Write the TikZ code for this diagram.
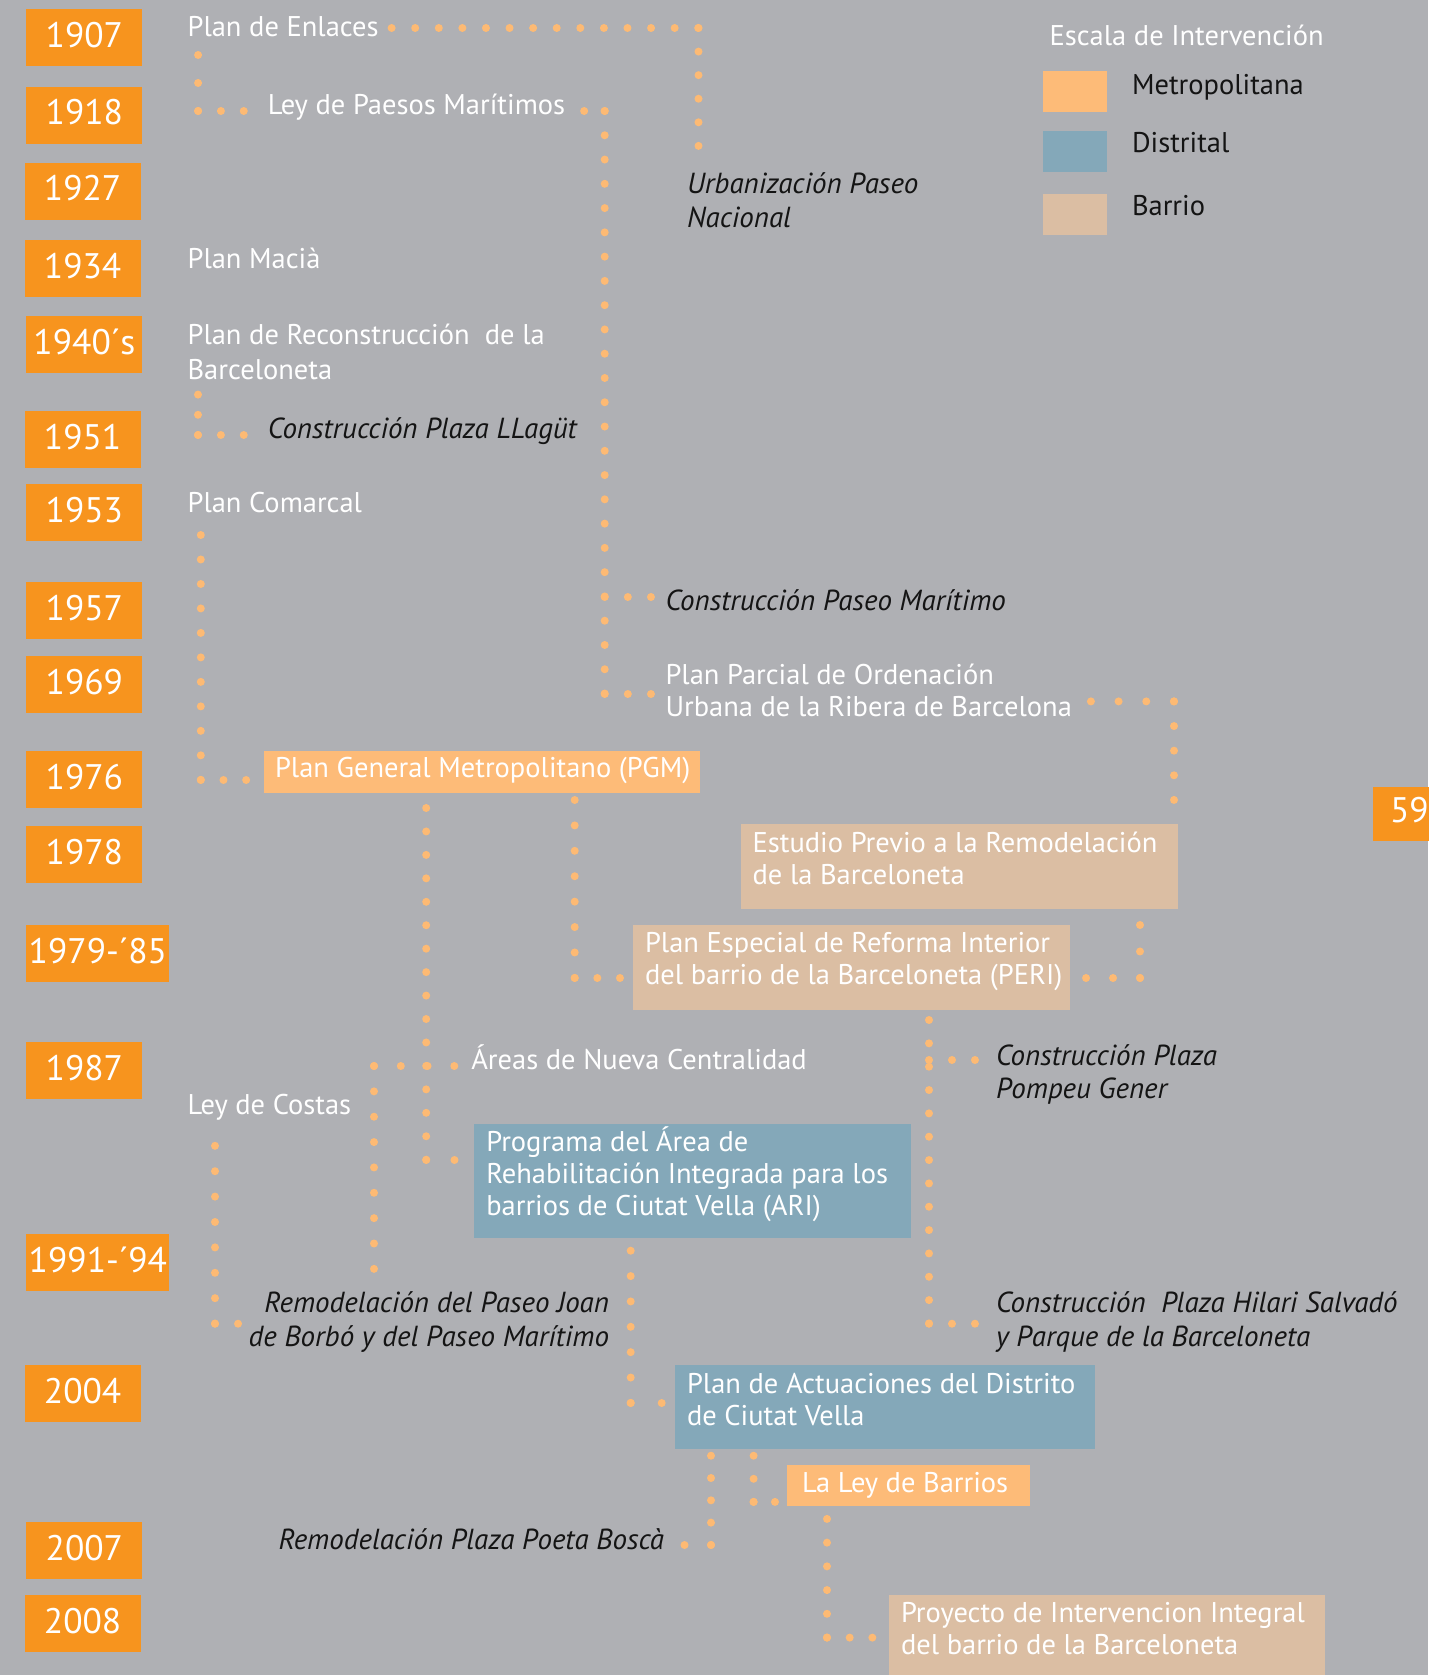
\documentclass[tikz,border=0pt]{standalone}
\usepackage{fontspec}
\setmainfont{PT Sans}
\usetikzlibrary{calc}
\definecolor{bgc}{HTML}{AFB0B4}
\definecolor{yearc}{HTML}{F7941E}
\definecolor{metroc}{HTML}{FDBB78}
\definecolor{distc}{HTML}{84A8B9}
\definecolor{barrc}{HTML}{DBBEA3}
\definecolor{dotc}{HTML}{FDBA74}
\definecolor{txtblack}{HTML}{141414}
\newcommand\lblf{\fontsize{28.5}{35}\selectfont}
\newcommand\lblfb{\fontsize{28.5}{32}\selectfont}
\newcommand\lblfc{\fontsize{29}{34}\selectfont}
\newcommand\dotseg[2]{%
  \path let \p1=(#1), \p2=(#2),
    \n1={max(1,veclen(\x2-\x1,\y2-\y1)/max(1,round(veclen(\x2-\x1,\y2-\y1)/24))-0.02)}
    in \pgfextra{\xdef\dotper{\n1}};
  \draw[dotl,dash pattern=on 0pt off \dotper] (#1) -- (#2);}
\newcommand\dotvh[2]{\dotseg{#1}{#1 |- #2}\dotseg{#1 |- #2}{#2}}
\newcommand\dothv[2]{\dotseg{#1}{#1 -| #2}\dotseg{#1 -| #2}{#2}}
\begin{document}
\begin{tikzpicture}[x=1pt,y=-1pt,
  every node/.style={inner sep=0pt,outer sep=0pt},
  yr/.style={fill=yearc,text=white,font=\fontsize{35.5}{40}\selectfont,anchor=north west,minimum width=116pt,minimum height=57pt,text depth=6pt},
  metrobox/.style={fill=metroc,anchor=north west},
  distbox/.style={fill=distc,anchor=north west},
  barrbox/.style={fill=barrc,anchor=north west},
  wt/.style={text=white,font=\lblf,anchor=base west,align=left},
  wtb/.style={text=white,font=\lblfb,anchor=base west,align=left},
  bt/.style={text=txtblack,font=\lblfc\itshape,anchor=base west,align=left},
  lt/.style={text=txtblack,font=\lblf,anchor=base west},
  dotl/.style={draw=dotc,line width=8pt,line cap=round,dash pattern=on 0pt off 24pt}]
\path[use as bounding box,fill=bgc] (0,0) rectangle (1428,1675);

% years
\node[yr] (y1907) at (26.4,8.9) {1907};
\node[yr] (y1918) at (26.4,86.8) {1918};
\node[yr] (y1927) at (24.6,162.5) {1927};
\node[yr] (y1934) at (24.6,240) {1934};
\node[yr] (y1940) at (26.4,316) {1940´s};
\node[yr] (y1951) at (24.6,411) {1951};
\node[yr] (y1953) at (26.4,484) {1953};
\node[yr] (y1957) at (26.4,582) {1957};
\node[yr] (y1969) at (26.4,656) {1969};
\node[yr] (y1976) at (26.4,751) {1976};
\node[yr] (y1978) at (26.4,826) {1978};
\node[yr,minimum width=143pt] (y1979) at (26.4,925) {1979-´85};
\node[yr] (y1987) at (26.4,1042) {1987};
\node[yr,minimum width=143pt] (y1991) at (26.4,1234) {1991-´94};
\node[yr] (y2004) at (24.6,1365) {2004};
\node[yr] (y2007) at (26.4,1522) {2007};
\node[yr] (y2008) at (24.6,1595) {2008};

% page number
\node[yr,minimum width=70pt,minimum height=54pt] (pg) at (1373,787) {};
\node[text=white,font=\fontsize{35.5}{40}\selectfont,anchor=base west] (pgt) at (1390,822) {59};

% legend
\node[wt] (legt) at (1049.6,45.7) {Escala de Intervención};
\node[metrobox,minimum width=64pt,minimum height=41pt] (lgm) at (1043,71) {};
\node[distbox,minimum width=64pt,minimum height=41pt] (lgd) at (1043,131) {};
\node[barrbox,minimum width=64pt,minimum height=41pt] (lgb) at (1043,194) {};
\node[lt] (lgmt) at (1132,95) {Metropolitana};
\node[lt] (lgdt) at (1132,153) {Distrital};
\node[lt] (lgbt) at (1132,215.7) {Barrio};

% plain labels (multi-line nodes: base = last line)
\node[wt] (enl) at (187.6,37) {Plan de Enlaces};
\node[wt] (ley) at (267.8,115) {Ley de Paesos Marítimos};
\node[wt] (macia) at (187.6,268) {Plan Macià};
\node[wt] (recon) at (187.6,379.6) {Plan de Reconstrucción\ \ de la\\Barceloneta};
\node[bt] (llagut) at (267.8,438.6) {Construcción Plaza LLagüt};
\node[wt] (comarcal) at (187.6,512.5) {Plan Comarcal};
\node[bt] (urb) at (687,227) {Urbanización Paseo\\Nacional};
\node[bt] (cpm) at (665.5,610.7) {Construcción Paseo Marítimo};
\node[wt,font=\fontsize{28.5}{31.5}\selectfont] (parcial) at (665.5,716.1) {Plan Parcial de Ordenación\\Urbana de la Ribera de Barcelona};
\node[wt] (areas) at (471.3,1069) {Áreas de Nueva Centralidad};
\node[wt] (costas) at (187.6,1114) {Ley de Costas};
\node[bt,font=\fontsize{29}{33}\selectfont\itshape] (pompeu) at (996,1098) {Construcción Plaza\\Pompeu Gener};
\node[bt,anchor=base east,align=right] (joan) at (609,1346) {Remodelación del Paseo Joan\\de Borbó y del Paseo Marítimo};
\node[bt] (hilari) at (996,1346) {Construcción\ \ Plaza Hilari Salvadó\\y Parque de la Barceloneta};
\node[bt,anchor=base east] (bosca) at (664,1549) {Remodelación Plaza Poeta Boscà};

% boxes
\node[metrobox,minimum width=436.7pt,minimum height=41.5pt] (pgm) at (263.7,751) {};
\node[wt] (pgmt) at (275,777.5) {Plan General Metropolitano (PGM)};
\node[barrbox,minimum width=437pt,minimum height=84.6pt] (est) at (741,824) {};
\node[wtb] (estt) at (752.6,884.5) {Estudio Previo a la Remodelación\\de la Barceloneta};
\node[barrbox,minimum width=437.3pt,minimum height=84.6pt] (peri) at (632.7,925) {};
\node[wtb] (perit) at (645,984.5) {Plan Especial de Reforma Interior\\del barrio de la Barceloneta (PERI)};
\node[distbox,minimum width=436.5pt,minimum height=113.5pt] (ari) at (474,1124) {};
\node[wtb] (arit) at (486.3,1215) {Programa del Área de\\Rehabilitación Integrada para los\\barrios de Ciutat Vella (ARI)};
\node[distbox,minimum width=420pt,minimum height=84pt] (actuac) at (675,1365) {};
\node[wtb] (actuact) at (687,1425.4) {Plan de Actuaciones del Distrito\\de Ciutat Vella};
\node[metrobox,minimum width=243pt,minimum height=41pt] (barrios) at (787,1464.5) {};
\node[wt] (barriost) at (802,1492.4) {La Ley de Barrios};
\node[barrbox,minimum width=436.6pt,minimum height=100pt] (proy) at (888.8,1595) {};
\node[wtb] (proyt) at (901,1654.5) {Proyecto de Intervencion Integral\\del barrio de la Barceloneta};

% connector end points
\coordinate (s1) at ($(enl.base east)+(13,-9)$);
\coordinate (e1) at ($(urb.base west)+(11.5,-81)$);
\coordinate (s2) at ($(enl.base west)+(10.5,18)$);
\coordinate (e2) at ($(ley.base west)+(-24,-4)$);
\coordinate (s3) at ($(ley.base east)+(19,-4)$);
\coordinate (b3) at ($(parcial.base west)+(-60.8,-22.1)$);
\coordinate (e3) at ($(parcial.base west)+(-14.5,-22.1)$);
\coordinate (f3) at ($(cpm.base west)+(-60.8,-13.7)$);
\coordinate (g3) at ($(cpm.base west)+(-14.5,-13.7)$);
\coordinate (s4) at ($(parcial.base east)+(19,-14.7)$);
\coordinate (e4) at ($(est.north east)+(-4,-24)$);
\coordinate (s5) at ($(comarcal.base west)+(13.2,22.5)$);
\coordinate (e5) at ($(pgm.south west)+(-17.5,-12.5)$);
\coordinate (s6) at ($(pgm.south west)+(311,7.5)$);
\coordinate (e6) at ($(peri.south west)+(-12.7,-31.6)$);
\coordinate (s7) at ($(pgm.south west)+(162.5,15.5)$);
\coordinate (e7) at ($(ari.north west)+(-19.5,36)$);
\coordinate (s7b) at ($(areas.base west)+(-17,-3)$);
\coordinate (e7b) at ($(joan.base east)+(-235,-77)$);
\coordinate (s8) at ($(costas.base west)+(27.4,31.8)$);
\coordinate (e8) at ($(joan.base west)+(-10.6,-22.3)$);
\coordinate (s9) at ($(peri.south west)+(296.3,10.4)$);
\coordinate (e9) at ($(hilari.base west)+(-21,-22.3)$);
\coordinate (s9b) at ($(pompeu.base west)+(-67,-38)$);
\coordinate (e9b) at ($(pompeu.base west)+(-21,-38)$);
\coordinate (s10) at ($(est.south east)+(-38,16.4)$);
\coordinate (e10) at ($(peri.south east)+(16,-31.6)$);
\coordinate (s11) at ($(ari.south west)+(156.7,13.2)$);
\coordinate (e11) at ($(actuac.north west)+(-13.3,38)$);
\coordinate (s12) at ($(actuac.south west)+(36,6.7)$);
\coordinate (e12) at ($(bosca.base east)+(20.5,-4)$);
\coordinate (s13) at ($(actuac.south west)+(78.6,6.7)$);
\coordinate (e13) at ($(barrios.south west)+(-12,-3.6)$);
\coordinate (s14) at ($(barrios.south west)+(40,13.4)$);
\coordinate (e14) at ($(proy.north west)+(-16.4,42.6)$);
\coordinate (s15) at ($(recon.base west)+(10.4,15)$);
\coordinate (e15) at ($(llagut.base west)+(-24,-3.6)$);

% connectors
\dothv{s1}{e1}
\dotvh{s2}{e2}
\dotseg{s3}{s3 -| b3}\dotseg{s3 -| b3}{b3}\dotseg{b3}{e3}
\dotseg{f3}{g3}
\dothv{s4}{e4}
\dotvh{s5}{e5}
\dotvh{s6}{e6}
\dotvh{s7}{e7}
\dothv{s7b}{e7b}
\dotvh{s8}{e8}
\dotvh{s9}{e9}
\dotseg{s9b}{e9b}
\dotvh{s10}{e10}
\dotvh{s11}{e11}
\dotvh{s12}{e12}
\dotvh{s13}{e13}
\dotvh{s14}{e14}
\dotvh{s15}{e15}
\end{tikzpicture}
\end{document}
